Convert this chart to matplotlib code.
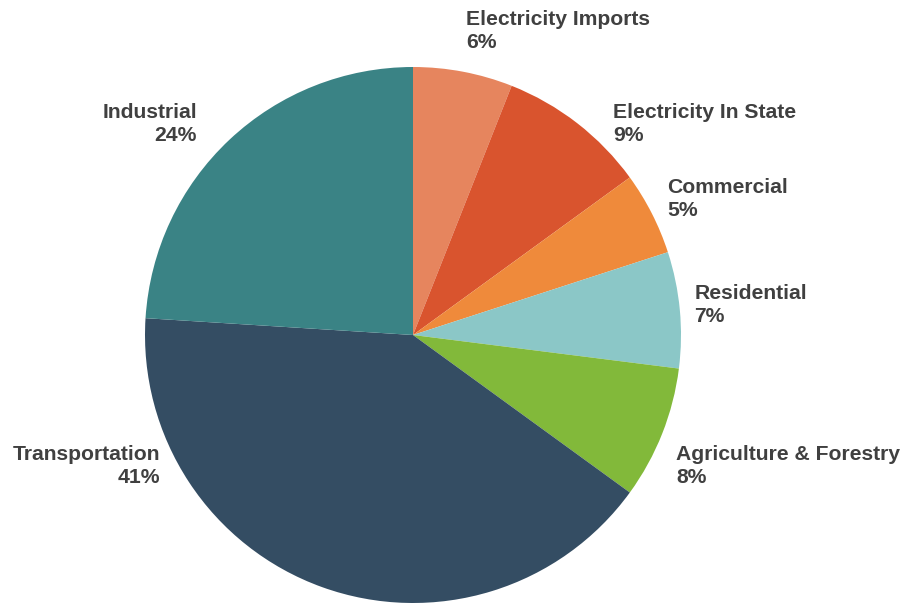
import matplotlib
matplotlib.use('Agg')
import matplotlib.pyplot as plt

sectors = ['Electricity Imports', 'Electricity In State', 'Commercial', 'Residential',
           'Agriculture & Forestry', 'Transportation', 'Industrial']
shares = [6, 9, 5, 7, 8, 41, 24]
colors = ['#E6855E', '#D9542E', '#EF8A3B', '#8BC7C7', '#82B93A', '#344D63', '#3A8385']

# label anchors in pie-radius units, and alignment
label_pos = [(0.198, 1.134), (0.746, 0.787), (0.948, 0.507), (1.049, 0.112),
             (0.981, -0.489), (-0.944, -0.489), (-0.806, 0.787)]
label_ha = ['left', 'left', 'left', 'left', 'left', 'right', 'right']

W, H = 909, 603
cx, cy, R = 413, 268, 268

fig = plt.figure(figsize=(W / 100, H / 100), dpi=100)
ax = fig.add_axes([0, 0, 1, 1])
ax.pie(shares, colors=colors, startangle=90, counterclock=False, radius=1,
       wedgeprops=dict(linewidth=0))
ax.set_xlim(-cx / R, (W - cx) / R)
ax.set_ylim(-cy / R, (H - cy) / R)
ax.set_aspect('equal')
ax.axis('off')

for name, val, (x, y), ha in zip(sectors, shares, label_pos, label_ha):
    ax.text(x, y, f'{name}\n{val}%', ha=ha, va='center', multialignment=ha,
            fontsize=15.2, fontweight='bold', color='#404040',
            family='Liberation Sans', linespacing=1.25)

fig.savefig('out.png', dpi=100, facecolor='white')
